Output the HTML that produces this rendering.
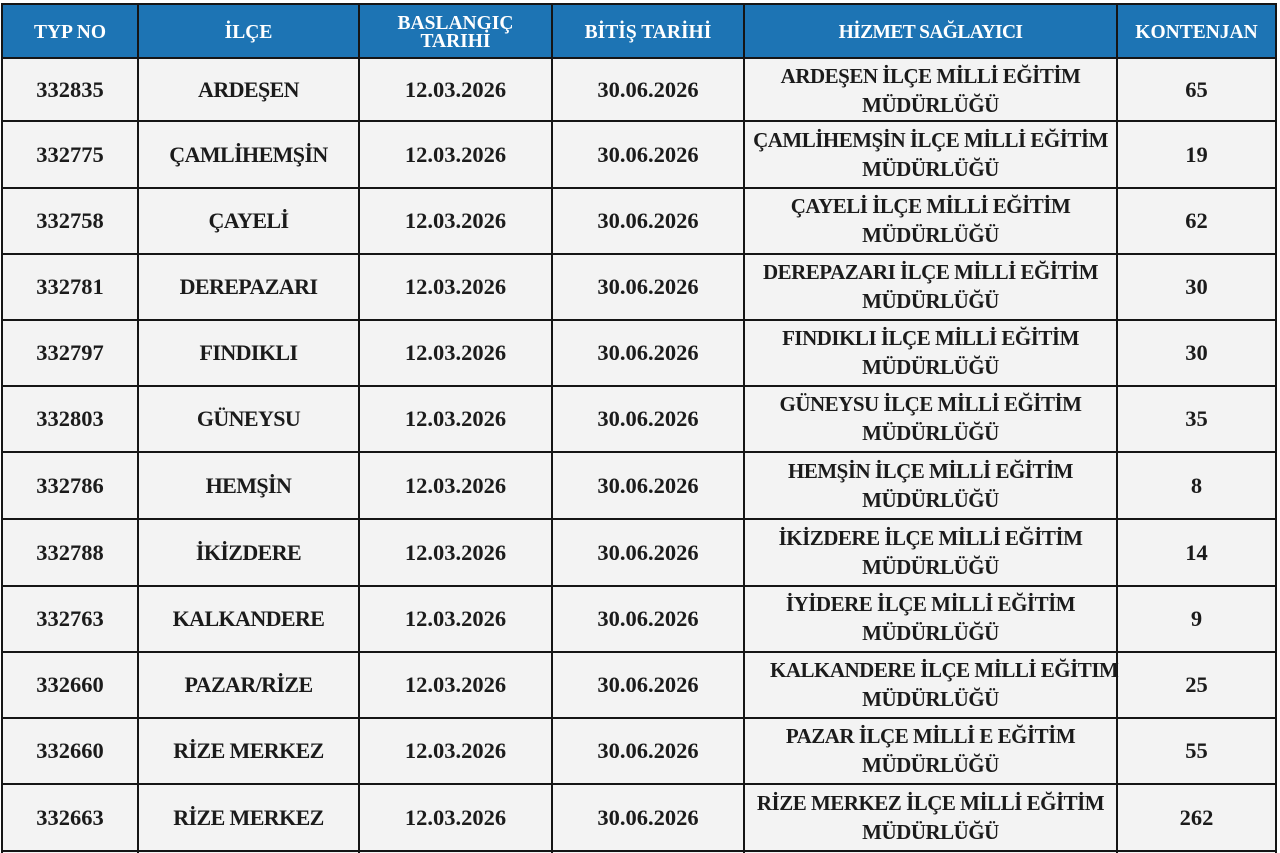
<!DOCTYPE html>
<html>
<head>
<meta charset="utf-8">
<style>
html,body{margin:0;padding:0;}
body{width:1280px;height:853px;position:relative;background:#ffffff;overflow:hidden;font-family:"Liberation Serif","DejaVu Serif",serif;font-weight:bold;color:#1b1b1b;}
.hbg{position:absolute;left:1px;top:4px;width:1276px;height:54px;background:#1d74b4;}
.bbg{position:absolute;left:1px;top:58px;width:1276px;height:795px;background:#f3f3f3;}
.v{position:absolute;width:2px;background:#151515;top:4px;height:849px;}
.h{position:absolute;height:2px;background:#151515;left:1px;width:1276px;}
.c{position:absolute;display:flex;align-items:center;justify-content:center;text-align:center;white-space:nowrap;}
.hd{color:#fff;font-size:19.5px;line-height:18px;padding-top:3px;box-sizing:border-box;}
.num{font-size:22.5px;}
.nm{font-size:22px;letter-spacing:-0.6px;}
.pv{font-size:21px;letter-spacing:-0.5px;line-height:29px;}
.ab{position:absolute;white-space:nowrap;font-size:21px;letter-spacing:-0.5px;line-height:29px;}
</style>
</head>
<body>
<div class="hbg"></div>
<div class="bbg"></div>

<div class="v" style="left:1px"></div>
<div class="v" style="left:137px"></div>
<div class="v" style="left:358px"></div>
<div class="v" style="left:551px"></div>
<div class="v" style="left:743px"></div>
<div class="v" style="left:1116px"></div>
<div class="v" style="left:1275px"></div>

<div class="h" style="top:3px"></div>
<div class="h" style="top:57px"></div>
<div class="h" style="top:120px"></div>
<div class="h" style="top:187px"></div>
<div class="h" style="top:253px"></div>
<div class="h" style="top:319px"></div>
<div class="h" style="top:385px"></div>
<div class="h" style="top:451px"></div>
<div class="h" style="top:518px"></div>
<div class="h" style="top:585px"></div>
<div class="h" style="top:651px"></div>
<div class="h" style="top:717px"></div>
<div class="h" style="top:783px"></div>
<div class="h" style="top:850px"></div>

<div class="c hd" style="left:3px;width:134px;top:5px;height:52px;">TYP NO</div>
<div class="c hd" style="left:139px;width:219px;top:5px;height:52px;">İLÇE</div>
<div class="c hd" style="left:360px;width:191px;top:5px;height:52px;">BASLANGIÇ<br>TARIHİ</div>
<div class="c hd" style="left:553px;width:190px;top:5px;height:52px;">BİTİŞ TARİHİ</div>
<div class="c hd" style="left:745px;width:371px;top:5px;height:52px;letter-spacing:-0.6px;">HİZMET SAĞLAYICI</div>
<div class="c hd" style="left:1118px;width:157px;top:5px;height:52px;">KONTENJAN</div>

<div class="c num" style="left:3px;width:134px;top:59px;height:61px;">332835</div>
<div class="c nm" style="left:139px;width:219px;top:59px;height:61px;">ARDEŞEN</div>
<div class="c num" style="left:360px;width:191px;top:59px;height:61px;">12.03.2026</div>
<div class="c num" style="left:553px;width:190px;top:59px;height:61px;">30.06.2026</div>
<div class="c pv" style="left:745px;width:371px;top:60px;height:61px;">ARDEŞEN İLÇE MİLLİ EĞİTİM<br>MÜDÜRLÜĞÜ</div>
<div class="c num" style="left:1118px;width:157px;top:59px;height:61px;">65</div>

<div class="c num" style="left:3px;width:134px;top:122px;height:65px;">332775</div>
<div class="c nm" style="left:139px;width:219px;top:122px;height:65px;">ÇAMLİHEMŞİN</div>
<div class="c num" style="left:360px;width:191px;top:122px;height:65px;">12.03.2026</div>
<div class="c num" style="left:553px;width:190px;top:122px;height:65px;">30.06.2026</div>
<div class="c pv" style="left:745px;width:371px;top:122px;height:65px;">ÇAMLİHEMŞİN İLÇE MİLLİ EĞİTİM<br>MÜDÜRLÜĞÜ</div>
<div class="c num" style="left:1118px;width:157px;top:122px;height:65px;">19</div>

<div class="c num" style="left:3px;width:134px;top:189px;height:64px;">332758</div>
<div class="c nm" style="left:139px;width:219px;top:189px;height:64px;">ÇAYELİ</div>
<div class="c num" style="left:360px;width:191px;top:189px;height:64px;">12.03.2026</div>
<div class="c num" style="left:553px;width:190px;top:189px;height:64px;">30.06.2026</div>
<div class="c pv" style="left:745px;width:371px;top:189px;height:64px;">ÇAYELİ İLÇE MİLLİ EĞİTİM<br>MÜDÜRLÜĞÜ</div>
<div class="c num" style="left:1118px;width:157px;top:189px;height:64px;">62</div>

<div class="c num" style="left:3px;width:134px;top:255px;height:64px;">332781</div>
<div class="c nm" style="left:139px;width:219px;top:255px;height:64px;">DEREPAZARI</div>
<div class="c num" style="left:360px;width:191px;top:255px;height:64px;">12.03.2026</div>
<div class="c num" style="left:553px;width:190px;top:255px;height:64px;">30.06.2026</div>
<div class="c pv" style="left:745px;width:371px;top:255px;height:64px;">DEREPAZARI İLÇE MİLLİ EĞİTİM<br>MÜDÜRLÜĞÜ</div>
<div class="c num" style="left:1118px;width:157px;top:255px;height:64px;">30</div>

<div class="c num" style="left:3px;width:134px;top:321px;height:64px;">332797</div>
<div class="c nm" style="left:139px;width:219px;top:321px;height:64px;">FINDIKLI</div>
<div class="c num" style="left:360px;width:191px;top:321px;height:64px;">12.03.2026</div>
<div class="c num" style="left:553px;width:190px;top:321px;height:64px;">30.06.2026</div>
<div class="c pv" style="left:745px;width:371px;top:321px;height:64px;">FINDIKLI İLÇE MİLLİ EĞİTİM<br>MÜDÜRLÜĞÜ</div>
<div class="c num" style="left:1118px;width:157px;top:321px;height:64px;">30</div>

<div class="c num" style="left:3px;width:134px;top:387px;height:64px;">332803</div>
<div class="c nm" style="left:139px;width:219px;top:387px;height:64px;">GÜNEYSU</div>
<div class="c num" style="left:360px;width:191px;top:387px;height:64px;">12.03.2026</div>
<div class="c num" style="left:553px;width:190px;top:387px;height:64px;">30.06.2026</div>
<div class="c pv" style="left:745px;width:371px;top:387px;height:64px;">GÜNEYSU İLÇE MİLLİ EĞİTİM<br>MÜDÜRLÜĞÜ</div>
<div class="c num" style="left:1118px;width:157px;top:387px;height:64px;">35</div>

<div class="c num" style="left:3px;width:134px;top:453px;height:65px;">332786</div>
<div class="c nm" style="left:139px;width:219px;top:453px;height:65px;">HEMŞİN</div>
<div class="c num" style="left:360px;width:191px;top:453px;height:65px;">12.03.2026</div>
<div class="c num" style="left:553px;width:190px;top:453px;height:65px;">30.06.2026</div>
<div class="c pv" style="left:745px;width:371px;top:453px;height:65px;">HEMŞİN İLÇE MİLLİ EĞİTİM<br>MÜDÜRLÜĞÜ</div>
<div class="c num" style="left:1118px;width:157px;top:453px;height:65px;">8</div>

<div class="c num" style="left:3px;width:134px;top:520px;height:65px;">332788</div>
<div class="c nm" style="left:139px;width:219px;top:520px;height:65px;">İKİZDERE</div>
<div class="c num" style="left:360px;width:191px;top:520px;height:65px;">12.03.2026</div>
<div class="c num" style="left:553px;width:190px;top:520px;height:65px;">30.06.2026</div>
<div class="c pv" style="left:745px;width:371px;top:520px;height:65px;">İKİZDERE İLÇE MİLLİ EĞİTİM<br>MÜDÜRLÜĞÜ</div>
<div class="c num" style="left:1118px;width:157px;top:520px;height:65px;">14</div>

<div class="c num" style="left:3px;width:134px;top:587px;height:64px;">332763</div>
<div class="c nm" style="left:139px;width:219px;top:587px;height:64px;">KALKANDERE</div>
<div class="c num" style="left:360px;width:191px;top:587px;height:64px;">12.03.2026</div>
<div class="c num" style="left:553px;width:190px;top:587px;height:64px;">30.06.2026</div>
<div class="c pv" style="left:745px;width:371px;top:587px;height:64px;">İYİDERE İLÇE MİLLİ EĞİTİM<br>MÜDÜRLÜĞÜ</div>
<div class="c num" style="left:1118px;width:157px;top:587px;height:64px;">9</div>

<div class="c num" style="left:3px;width:134px;top:653px;height:64px;">332660</div>
<div class="c nm" style="left:139px;width:219px;top:653px;height:64px;">PAZAR/RİZE</div>
<div class="c num" style="left:360px;width:191px;top:653px;height:64px;">12.03.2026</div>
<div class="c num" style="left:553px;width:190px;top:653px;height:64px;">30.06.2026</div>
<div class="ab" style="left:770px;top:656px;">KALKANDERE İLÇE MİLLİ EĞİTIM</div>
<div class="c pv" style="left:745px;width:371px;top:685px;height:29px;">MÜDÜRLÜĞÜ</div>
<div class="c num" style="left:1118px;width:157px;top:653px;height:64px;">25</div>

<div class="c num" style="left:3px;width:134px;top:719px;height:64px;">332660</div>
<div class="c nm" style="left:139px;width:219px;top:719px;height:64px;">RİZE MERKEZ</div>
<div class="c num" style="left:360px;width:191px;top:719px;height:64px;">12.03.2026</div>
<div class="c num" style="left:553px;width:190px;top:719px;height:64px;">30.06.2026</div>
<div class="c pv" style="left:745px;width:371px;top:719px;height:64px;">PAZAR İLÇE MİLLİ E EĞİTİM<br>MÜDÜRLÜĞÜ</div>
<div class="c num" style="left:1118px;width:157px;top:719px;height:64px;">55</div>

<div class="c num" style="left:3px;width:134px;top:785px;height:65px;">332663</div>
<div class="c nm" style="left:139px;width:219px;top:785px;height:65px;">RİZE MERKEZ</div>
<div class="c num" style="left:360px;width:191px;top:785px;height:65px;">12.03.2026</div>
<div class="c num" style="left:553px;width:190px;top:785px;height:65px;">30.06.2026</div>
<div class="c pv" style="left:745px;width:371px;top:785px;height:65px;">RİZE MERKEZ İLÇE MİLLİ EĞİTİM<br>MÜDÜRLÜĞÜ</div>
<div class="c num" style="left:1118px;width:157px;top:785px;height:65px;">262</div>

</body>
</html>
